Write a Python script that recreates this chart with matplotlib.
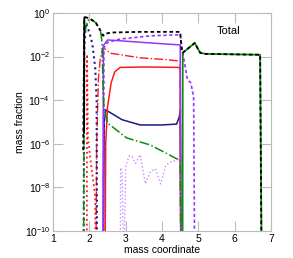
import numpy as np
import matplotlib
matplotlib.use("Agg")
import matplotlib.pyplot as plt

plt.rcParams['font.family'] = ['Liberation Sans', 'DejaVu Sans']
plt.rcParams['mathtext.fontset'] = 'custom'
plt.rcParams['mathtext.rm'] = 'Liberation Sans'
plt.rcParams['mathtext.it'] = 'Liberation Sans'

# log10(mass fraction) profiles vs mass coordinate
blk_sol_x = [1.855, 1.86, 1.875]
blk_sol_y = [-5.5, -0.22, -0.2]

blk_dash_x = [1.83, 1.86, 1.9, 2.0, 2.18, 2.3, 2.38, 2.45, 2.6, 3.4, 4.5, 4.54, 4.57, 4.9, 5.05, 5.2, 6.7, 6.74]
blk_dash_y = [-6.3, -0.25, -0.2, -0.25, -0.46, -0.8, -1.05, -0.95, -0.9, -0.87, -0.87, -1.7, -1.83, -1.38, -1.83, -1.88, -1.92, -12]

grn_dd_x = [1.84, 1.86, 1.95, 2.05, 2.18, 2.3, 2.33, 2.35, 2.37, 2.4, 2.5, 3.02, 3.4, 3.68, 4.46, 4.5, 4.52]
grn_dd_y = [-12, -1.0, -0.35, -0.28, -0.46, -0.78, -1.1, -1.4, -3.0, -4.3, -5.05, -5.73, -5.92, -6.06, -6.74, -6.8, -12]

grn_sol_x = [4.565, 4.57, 4.9, 5.05, 5.2, 6.7, 6.745]
grn_sol_y = [-12, -1.83, -1.38, -1.83, -1.88, -1.92, -12]

blu_dot_x = [1.84, 1.86, 1.91, 2.0, 2.08, 2.16, 2.2, 2.21]
blu_dot_y = [-12, -1.5, -0.46, -0.9, -1.4, -2.5, -4.0, -12]

red_dot_x = [1.93, 1.935, 1.945, 1.96, 2.05, 2.13, 2.16, 2.17]
red_dot_y = [-12, -1.9, -3.5, -5.7, -7.0, -8.0, -8.5, -12]

red_dd_x = [2.18, 2.2, 2.25, 2.3, 2.38, 2.58, 3.4, 4.0, 4.45, 4.5, 4.52]
red_dd_y = [-12, -6.0, -3.0, -2.1, -1.6, -1.85, -2.06, -2.13, -2.2, -2.2, -12]

pur_sol_x = [2.37, 2.385, 2.5, 3.7, 4.5, 4.52]
pur_sol_y = [-12, -1.5, -1.24, -1.38, -1.47, -12]

pur_dash_x = [2.39, 2.4, 2.5, 2.85, 3.7, 4.5, 4.57, 4.7, 4.79, 4.87, 4.9]
pur_dash_y = [-12, -1.6, -1.35, -1.2, -1.05, -1.0, -1.83, -3.07, -3.2, -3.85, -12]

red_sol_x = [2.43, 2.45, 2.5, 2.6, 2.7, 2.85, 3.5, 4.45, 4.5, 4.52]
red_sol_y = [-12, -6.0, -4.3, -3.2, -2.7, -2.5, -2.48, -2.5, -2.55, -12]

navy_x = [2.38, 2.41, 2.45, 2.6, 2.9, 3.4, 4.0, 4.4, 4.47, 4.5, 4.52]
navy_y = [-12, -5.0, -4.45, -4.6, -4.9, -5.14, -5.14, -5.1, -4.8, -4.5, -12]

lpur_x = [2.85, 2.86, 2.9, 2.95, 3.0, 3.1, 3.18, 3.27, 3.4, 3.54, 3.68, 3.82, 3.96, 4.1, 4.23, 4.43, 4.5, 4.52]
lpur_y = [-12, -7.1, -7.3, -12, -7.0, -6.55, -6.6, -6.9, -6.5, -7.84, -7.29, -7.15, -7.84, -7.0, -6.84, -6.74, -6.7, -12]

x_ticks = [1, 2, 3, 4, 5, 6, 7]
y_exps = [0, -2, -4, -6, -8, -10]

fig = plt.figure(figsize=(2.93, 2.58), dpi=100)
ax = fig.add_axes([0.181, 0.105, 0.744, 0.845])

def p(x, y, **kw):
    ax.plot(x, 10.0 ** np.array(y, dtype=float), **kw)

green = '#0f8a0f'
red = '#ff1a1a'
navy = '#1a1a8c'
purple = '#9933ff'
lpurple = '#cc88ff'

p(lpur_x, lpur_y, color=lpurple, ls=':', lw=1.0)
p(navy_x, navy_y, color=navy, ls='-', lw=1.1)
p(red_sol_x, red_sol_y, color=red, ls='-', lw=1.1)
p(red_dd_x, red_dd_y, color=red, ls='-.', lw=1.0)
p(red_dot_x, red_dot_y, color=red, ls=':', lw=1.3)
p(blu_dot_x, blu_dot_y, color=navy, ls=':', lw=1.5)
p(pur_sol_x, pur_sol_y, color=purple, ls='-', lw=1.1)
p(pur_dash_x, pur_dash_y, color=purple, ls='--', lw=1.2, dashes=(2, 1.5))
p(grn_sol_x, grn_sol_y, color=green, ls='-', lw=1.3)
p(grn_dd_x, grn_dd_y, color=green, ls='-.', lw=1.1)
p(blk_dash_x, blk_dash_y, color='black', ls='--', lw=1.3, dashes=(2, 1.5))
p(blk_sol_x, blk_sol_y, color='black', ls='-', lw=1.3)

ax.set_yscale('log')
ax.set_xlim(1, 7)
ax.set_ylim(1e-10, 1)
ax.set_xticks(x_ticks)
ax.set_xticklabels([str(t) for t in x_ticks])
ax.set_yticks([10.0 ** e for e in y_exps])
ax.set_yticklabels([r'$10^{%d}$' % e for e in y_exps])
ax.yaxis.set_minor_locator(matplotlib.ticker.NullLocator())
ax.tick_params(which='both', direction='in', length=7, width=0.8, color='#bbbbbb',
               top=True, right=True, labelsize=7.5, pad=2)
for s in ax.spines.values():
    s.set_color('#bbbbbb')
    s.set_linewidth(0.8)
ax.set_xlabel('mass coordinate', fontsize=7.5, labelpad=1)
ax.set_ylabel('mass fraction', fontsize=7.5, labelpad=0)
ax.text(5.83, 0.15, 'Total', fontsize=8, ha='center', va='center')

fig.savefig('out.png', dpi=100)
